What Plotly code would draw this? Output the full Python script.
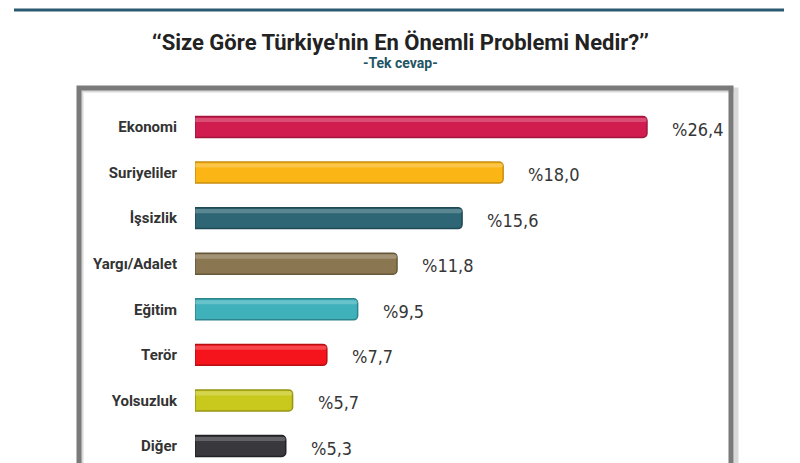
import plotly.graph_objects as go

categories = ["Ekonomi", "Suriyeliler", "İşsizlik", "Yargı/Adalet", "Eğitim", "Terör", "Yolsuzluk", "Diğer"]
values = [26.4, 18.0, 15.6, 11.8, 9.5, 7.7, 5.7, 5.3]
value_labels = ["%26,4", "%18,0", "%15,6", "%11,8", "%9,5", "%7,7", "%5,7", "%5,3"]
colors = ["#d01c4e", "#fbb514", "#2e6675", "#8a7751", "#3eb1bb", "#f5141b", "#c9c81c", "#38383d"]
edge_colors = ["#a3163d", "#c98f0e", "#1f4955", "#66583b", "#2c858d", "#b80f14", "#969514", "#222226"]

pos = list(range(len(categories)))

# the page body adds an 8px offset, so work in page pixels minus 8
OFF = 8
W, H = 800 - OFF, 463 - OFF
L, R, T = 195 - OFF, 70, 93 - OFF
plot_w = W - L - R
plot_h = H - T

def px_x(x):
    return (x - OFF - L) / plot_w

def px_y(y):
    return 1 - (y - OFF - T) / plot_h

fig = go.Figure()

# main bars with a darker edge for a little depth
fig.add_trace(go.Bar(
    y=pos, x=values, orientation="h",
    marker=dict(color=colors, line=dict(color=edge_colors, width=1.5), cornerradius=4),
    width=0.46, hoverinfo="skip",
))
# light strip on top of each bar
fig.add_trace(go.Bar(
    y=pos, x=values, orientation="h",
    marker=dict(color="rgba(255,255,255,0.22)", line=dict(width=0), cornerradius=3),
    width=0.09, offset=-0.2, hoverinfo="skip",
))

for p, v, t in zip(pos, values, value_labels):
    fig.add_annotation(x=v, y=p, text=t, showarrow=False, xanchor="left", yanchor="middle",
                       xshift=23, yshift=-2,
                       font=dict(family="DejaVu Sans Condensed, Roboto, sans-serif", size=18, color="#363636"))

# title and subtitle
fig.add_annotation(x=px_x(400), y=px_y(42), xref="paper", yref="paper", yanchor="middle",
                   text="<b>\u2018\u2018Size Göre Türkiye'nin En Önemli Problemi Nedir?\u2019\u2019</b>",
                   showarrow=False, font=dict(family="Roboto, sans-serif", size=22, color="#222222"))
fig.add_annotation(x=px_x(400), y=px_y(63), xref="paper", yref="paper", yanchor="middle",
                   text="<b>-Tek cevap-</b>",
                   showarrow=False, font=dict(family="Roboto, sans-serif", size=14, color="#1f5566"))

fig.update_layout(
    width=W, height=H,
    margin=dict(l=L, r=R, t=T, b=0),
    paper_bgcolor="white", plot_bgcolor="white",
    barmode="overlay", showlegend=False,
    xaxis=dict(range=[0, 31.25], visible=False, fixedrange=True),
    yaxis=dict(range=[7.373, -0.746], tickvals=pos, ticktext=["<b>" + c + "</b>" for c in categories],
               showgrid=False, zeroline=False, showline=False, ticks="", ticklabelstandoff=17,
               tickfont=dict(family="Roboto, sans-serif", size=15, color="#333333")),
)

# top rule
fig.add_shape(type="line", xref="paper", yref="paper", x0=px_x(14), x1=px_x(784), y0=px_y(10), y1=px_y(10),
              line=dict(color="#2b5a70", width=3))
# frame shadow and frame
fig.add_shape(type="rect", xref="paper", yref="paper", x0=px_x(81), x1=px_x(736), y0=px_y(90), y1=px_y(520),
              line=dict(color="rgba(0,0,0,0.15)", width=5), layer="below")
fig.add_shape(type="rect", xref="paper", yref="paper", x0=px_x(79), x1=px_x(731), y0=px_y(88), y1=px_y(520),
              line=dict(color="#7a7a7a", width=5), layer="below")

fig.write_html("out.html")
